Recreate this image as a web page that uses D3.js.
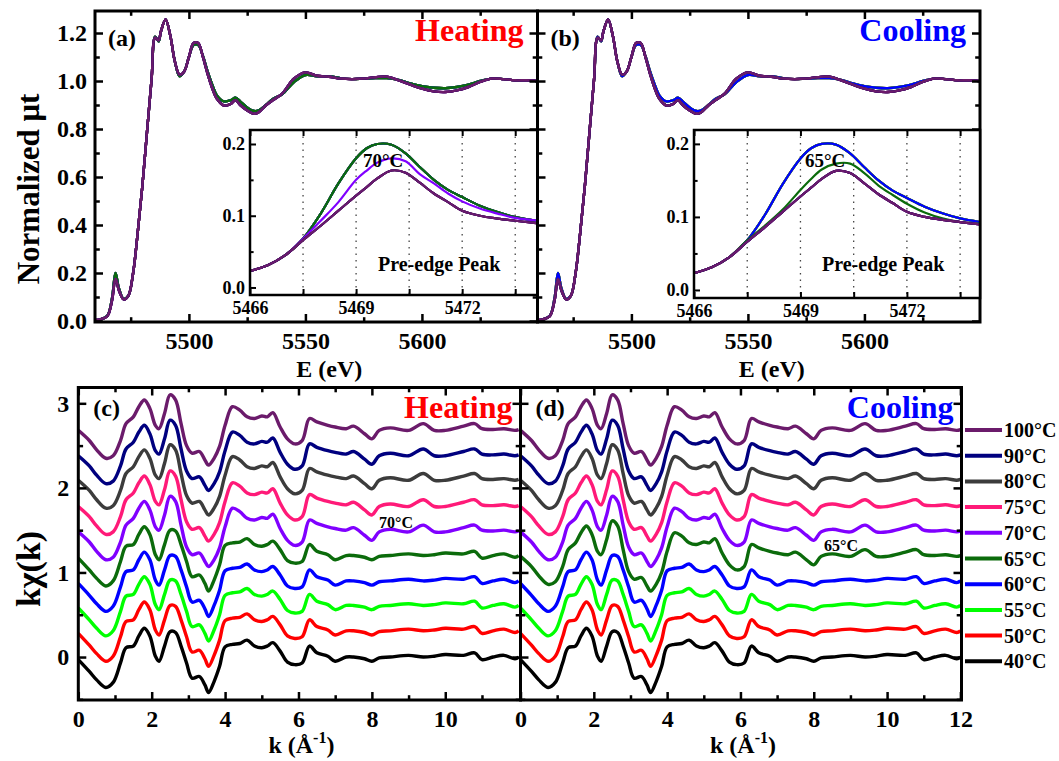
<!DOCTYPE html>
<html>
<head>
<meta charset="utf-8">
<script src="https://cdn.jsdelivr.net/npm/d3@7/dist/d3.min.js"></script>
<style>
body { margin: 0; background: #fff; }
text { font-family: "Liberation Serif", "Times New Roman", serif; font-weight: bold; }
</style>
</head>
<body>
<svg id="chart" width="1059" height="761"></svg>
<script>
// temperatures and colours (legend order is bottom to top)
var temps = ["40°C", "50°C", "55°C", "60°C", "65°C", "70°C", "75°C", "80°C", "90°C", "100°C"];
var tempColors = ["#000000", "#ff0000", "#00ff00", "#0000ff", "#0b6b0b", "#8000ff", "#ff1a78", "#3c3c3c", "#00007f", "#6b1b6b"];

// XANES, normalized mu t
var eGrid = [5458, 5462, 5465, 5467, 5468.5, 5470, 5472, 5474, 5476, 5478, 5480, 5482, 5484, 5485.5, 5487, 5488, 5490, 5492, 5494, 5496, 5498, 5500, 5502, 5504, 5506, 5508, 5510, 5512, 5515, 5518, 5520, 5522, 5525, 5528, 5530, 5533, 5536, 5540, 5545, 5550, 5555, 5560, 5565, 5570, 5575, 5580, 5585, 5590, 5595, 5600, 5605, 5610, 5615, 5620, 5625, 5630, 5635, 5640, 5645, 5650];
var muHighT = [0.003, 0.007, 0.02, 0.084, 0.175, 0.126, 0.09, 0.105, 0.196, 0.365, 0.56, 0.786, 1.01, 1.18, 1.17, 1.207, 1.256, 1.19, 1.08, 1.027, 1.04, 1.10, 1.158, 1.158, 1.10, 1.03, 0.97, 0.926, 0.898, 0.905, 0.92, 0.90, 0.877, 0.863, 0.87, 0.898, 0.92, 0.947, 1.01, 1.036, 1.022, 1.018, 1.01, 1.008, 1.01, 1.016, 1.018, 1.003, 0.985, 0.968, 0.957, 0.954, 0.961, 0.975, 0.996, 1.01, 1.008, 1.003, 1.003, 0.999];
var muLowT = [0.003, 0.007, 0.022, 0.095, 0.200, 0.135, 0.092, 0.105, 0.196, 0.365, 0.56, 0.786, 1.01, 1.185, 1.165, 1.207, 1.256, 1.19, 1.08, 1.02, 1.04, 1.10, 1.15, 1.15, 1.105, 1.04, 0.985, 0.94, 0.915, 0.92, 0.93, 0.915, 0.89, 0.875, 0.878, 0.9, 0.925, 0.945, 0.995, 1.025, 1.02, 1.02, 1.012, 1.008, 1.01, 1.012, 1.012, 1.005, 0.99, 0.978, 0.972, 0.97, 0.975, 0.985, 1.0, 1.01, 1.008, 1.003, 1.003, 0.999];

// pre-edge peak (insets)
var preE = [5466, 5466.5, 5467, 5467.5, 5468, 5468.5, 5469, 5469.3, 5469.6, 5470, 5470.4, 5470.8, 5471.2, 5471.6, 5472, 5472.5, 5473, 5473.5, 5474.2];
var preLow = [0.023, 0.031, 0.045, 0.068, 0.103, 0.145, 0.180, 0.194, 0.200, 0.199, 0.187, 0.168, 0.150, 0.136, 0.126, 0.114, 0.105, 0.098, 0.092];
var preHigh = [0.023, 0.031, 0.045, 0.066, 0.086, 0.107, 0.128, 0.140, 0.152, 0.163, 0.160, 0.146, 0.131, 0.119, 0.107, 0.100, 0.096, 0.093, 0.089];
var preMidHeat = [0.023, 0.031, 0.045, 0.068, 0.093, 0.119, 0.150, 0.163, 0.174, 0.180, 0.176, 0.158, 0.145, 0.131, 0.120, 0.110, 0.103, 0.097, 0.093];
var preMidCool = [0.023, 0.031, 0.045, 0.068, 0.088, 0.110, 0.137, 0.152, 0.165, 0.173, 0.173, 0.160, 0.143, 0.130, 0.118, 0.106, 0.098, 0.093, 0.090];

// k chi(k), curve shapes around each curve's own baseline
var kGrid = [0, 0.3, 0.5, 0.75, 0.95, 1.15, 1.3, 1.5, 1.65, 1.8, 1.95, 2.1, 2.2, 2.35, 2.5, 2.65, 2.8, 2.95, 3.1, 3.3, 3.45, 3.55, 3.7, 3.85, 4.0, 4.2, 4.4, 4.6, 4.8, 5.0, 5.15, 5.3, 5.5, 5.7, 5.9, 6.1, 6.3, 6.5, 6.8, 7.0, 7.3, 7.5, 7.8, 8.0, 8.2, 8.5, 9.0, 9.4, 9.7, 10.0, 10.5, 10.8, 11.0, 11.3, 11.6, 11.9, 12.0];
var chiLowT = [-0.03, -0.17, -0.27, -0.36, -0.30, -0.07, 0.11, 0.13, 0.25, 0.34, 0.25, 0.01, -0.05, 0.13, 0.30, 0.29, 0.13, -0.07, -0.25, -0.23, -0.33, -0.42, -0.29, -0.11, 0.12, 0.15, 0.16, 0.20, 0.13, 0.11, 0.13, 0.17, 0.07, -0.06, -0.09, -0.07, 0.13, 0.05, 0.01, -0.05, 0.0, 0.0, -0.02, -0.05, -0.01, 0.0, 0.02, 0.0, 0.01, 0.03, 0.02, 0.05, -0.03, 0.0, 0.02, -0.02, 0.0];
var chiHighT = [-0.01, -0.13, -0.24, -0.34, -0.31, -0.13, 0.07, 0.15, 0.27, 0.35, 0.25, 0.05, 0.01, 0.19, 0.41, 0.35, 0.07, -0.19, -0.28, -0.26, -0.36, -0.42, -0.34, -0.20, 0.05, 0.27, 0.23, 0.15, 0.13, 0.16, 0.15, 0.20, 0.03, -0.11, -0.17, -0.13, 0.13, 0.09, 0.05, 0.03, 0.01, 0.04, -0.05, -0.11, -0.01, 0.02, -0.01, 0.07, -0.01, -0.01, 0.04, 0.07, 0.01, 0.0, 0.01, -0.01, 0.0];
// vertical offsets of the stacked curves
var kOffsets = [0, 0.31, 0.61, 0.90, 1.20, 1.49, 1.79, 2.10, 2.39, 2.69];

// which curve each temperature uses
var heatGroups = ["L", "L", "L", "L", "L", "M", "H", "H", "H", "H"];
var coolGroups = ["L", "L", "L", "L", "M", "H", "H", "H", "H", "H"];

var svg = d3.select("#chart");

function pairs(xs, ys) {
    return xs.map(function(d, i) { return [d, ys[i]]; });
}

var clipId = 0;
function makePanel(x0, x1, y0, y1, xDom, yDom) {
    var w = x1 - x0, h = y1 - y0;
    var g = svg.append("g").attr("transform", "translate(" + x0 + "," + y0 + ")");
    var x = d3.scaleLinear().domain(xDom).range([0, w]);
    var y = d3.scaleLinear().domain(yDom).range([h, 0]);
    clipId++;
    svg.append("clipPath").attr("id", "clip" + clipId).append("rect").attr("x", 0).attr("y", 0).attr("width", w).attr("height", h);
    var plot = g.append("g").attr("clip-path", "url(#clip" + clipId + ")");
    return {g: g, plot: plot, x: x, y: y, w: w, h: h};
}

function ticks(p, o) {
    var g = p.g.append("g");
    function styleAxis(sel, fs) {
        sel.select(".domain").remove();
        sel.selectAll("line").attr("stroke", "#000").attr("stroke-width", o.tw || 2.5);
        sel.selectAll("text").style("font-size", fs + "px").attr("fill", "#000");
    }
    var L = o.len, fs = o.fs;
    g.append("g").attr("transform", "translate(0," + p.h + ")")
        .call(d3.axisBottom(p.x).tickValues(o.xMajor).tickSize(-L).tickPadding(o.xpad).tickFormat(o.xFmt))
        .call(styleAxis, fs);
    g.append("g").call(d3.axisTop(p.x).tickValues(o.xMajor).tickSize(-L).tickFormat("")).call(styleAxis, fs);
    g.append("g").call(d3.axisLeft(p.y).tickValues(o.yMajor).tickSize(-L).tickPadding(o.ypad).tickFormat(o.yFmt))
        .call(styleAxis, fs);
    if (o.right !== false) {
        g.append("g").attr("transform", "translate(" + p.w + ",0)")
            .call(d3.axisRight(p.y).tickValues(o.yMajor).tickSize(-L).tickFormat("")).call(styleAxis, fs);
    }
    if (o.xMinor) {
        g.append("g").attr("transform", "translate(0," + p.h + ")")
            .call(d3.axisBottom(p.x).tickValues(o.xMinor).tickSize(-L * 0.6).tickFormat("")).call(styleAxis, fs);
        g.append("g").call(d3.axisTop(p.x).tickValues(o.xMinor).tickSize(-L * 0.6).tickFormat("")).call(styleAxis, fs);
    }
    if (o.yMinor) {
        g.append("g").call(d3.axisLeft(p.y).tickValues(o.yMinor).tickSize(-L * 0.6).tickFormat("")).call(styleAxis, fs);
        if (o.right !== false) {
            g.append("g").attr("transform", "translate(" + p.w + ",0)")
                .call(d3.axisRight(p.y).tickValues(o.yMinor).tickSize(-L * 0.6).tickFormat("")).call(styleAxis, fs);
        }
    }
    p.g.append("rect").attr("width", p.w).attr("height", p.h)
        .attr("fill", "none").attr("stroke", "#000").attr("stroke-width", o.fw || 3);
}

function label(x, y, txt, size, color, anchor) {
    return svg.append("text").attr("x", x).attr("y", y).attr("text-anchor", anchor || "start")
        .attr("fill", color || "#000").style("font-size", size + "px").text(txt);
}

var smooth = d3.curveCatmullRom.alpha(0.5);
var noLabel = function() { return ""; };

// ---------- top panels: XANES ----------
function xanesPanel(x0, x1, groups, inset, midPre, tag, title, titleColor, midLabel, showY) {
    var p = makePanel(x0, x1, 11, 322, [5459.7, 5649.6], [-0.0042, 1.2917]);
    var line = d3.line().curve(smooth).x(function(d) { return p.x(d[0]); }).y(function(d) { return p.y(d[1]); });
    temps.forEach(function(t, i) {
        var ys = groups[i] === "L" ? muLowT : muHighT;
        p.plot.append("path").datum(pairs(eGrid, ys)).attr("d", line)
            .attr("fill", "none").attr("stroke", tempColors[i]).attr("stroke-width", 2.4);
    });

    // inset
    var q = makePanel(inset[0], inset[1], inset[2], inset[3], inset[4], inset[5]);
    q.g.insert("rect", ":first-child").attr("width", q.w).attr("height", q.h).attr("fill", "#fff");
    [5467.5, 5469, 5470.5, 5472, 5473.5].forEach(function(v) {
        q.plot.append("line").attr("x1", q.x(v)).attr("x2", q.x(v)).attr("y1", 0).attr("y2", q.h)
            .attr("stroke", "#444").attr("stroke-width", 1.3).attr("stroke-dasharray", "1.5,5");
    });
    var qline = d3.line().curve(smooth).x(function(d) { return q.x(d[0]); }).y(function(d) { return q.y(d[1]); });
    temps.forEach(function(t, i) {
        var ys = groups[i] === "L" ? preLow : (groups[i] === "M" ? midPre : preHigh);
        q.plot.append("path").datum(pairs(preE, ys)).attr("d", qline)
            .attr("fill", "none").attr("stroke", tempColors[i]).attr("stroke-width", 2.2);
    });
    ticks(q, {xMajor: [5466, 5467.5, 5469, 5470.5, 5472, 5473.5],
        xFmt: function(d) { return (d - 5466) % 3 === 0 ? d3.format("d")(d) : ""; },
        yMajor: [0, 0.1, 0.2], yMinor: [0.05, 0.15], yFmt: d3.format(".1f"),
        len: 6, fs: 18, xpad: 6, ypad: 5, right: false, fw: 2.5, tw: 2});
    label(inset[0] + inset[6], 167, midLabel, 19);
    label(inset[0] + 128, 271, "Pre-edge Peak", 20);

    ticks(p, {xMajor: [5500, 5550, 5600], xMinor: [5475, 5525, 5575, 5625],
        yMajor: [0, 0.2, 0.4, 0.6, 0.8, 1.0, 1.2], yMinor: [0.1, 0.3, 0.5, 0.7, 0.9, 1.1],
        xFmt: d3.format("d"), yFmt: showY ? d3.format(".1f") : noLabel, len: 8, fs: 24, xpad: 10, ypad: 8});
    label(x0 + 13, 46, tag, 24);
    label(x1 - 14, 41, title, 32, titleColor, "end");
    label((x0 + x1) / 2 + 13, 377, "E (eV)", 24, "#000", "middle");
    return p;
}

xanesPanel(95, 537.5, heatGroups, [250, 537.5, 130, 295, [5466, 5474.13], [-0.0105, 0.2195], 113], preMidHeat, "(a)", "Heating", "#ff0000", "70°C", true);
xanesPanel(537.5, 980, coolGroups, [694, 980, 130, 298, [5466, 5474.06], [-0.011, 0.219], 111], preMidCool, "(b)", "Cooling", "#0000ff", "65°C", false);

// ---------- bottom panels: k chi(k) ----------
function kPanel(x0, x1, xMax, xLabels, groups, tag, title, titleColor, note, showY) {
    var p = makePanel(x0, x1, 387.5, 700, [0, xMax], [-0.508, 3.187]);
    var line = d3.line().curve(smooth).x(function(d) { return p.x(d[0]); }).y(function(d) { return p.y(d[1]); });
    temps.forEach(function(t, i) {
        var shape = groups[i] === "L" ? chiLowT : chiHighT;
        var ys = shape.map(function(v) { return v + kOffsets[i]; });
        p.plot.append("path").datum(pairs(kGrid, ys)).attr("d", line)
            .attr("fill", "none").attr("stroke", tempColors[i]).attr("stroke-width", 3.4);
    });
    ticks(p, {xMajor: xLabels, xMinor: [1, 3, 5, 7, 9, 11],
        yMajor: [0, 1, 2, 3], yMinor: [-0.5, 0.5, 1.5, 2.5],
        xFmt: d3.format("d"), yFmt: showY ? d3.format("d") : noLabel, len: 8, fs: 24, xpad: 10, ypad: 9});
    label(x0 + 15, 416, tag, 24);
    label(x1 - 8, 418, title, 32, titleColor, "end");
    var kl = svg.append("text").attr("x", (x0 + x1) / 2 + 2).attr("y", 753)
        .attr("text-anchor", "middle").style("font-size", "24px");
    kl.append("tspan").text("k (Å");
    kl.append("tspan").attr("dy", -10).style("font-size", "16px").text("-1");
    kl.append("tspan").attr("dy", 10).text(")");
    label(note[0], note[1], note[2], 16);
    return p;
}

kPanel(78.3, 520.5, 12.05, [0, 2, 4, 6, 8, 10], heatGroups, "(c)", "Heating", "#ff0000", [379, 528, "70°C"], true);
kPanel(520.5, 961.5, 12.03, [0, 2, 4, 6, 8, 10, 12], coolGroups, "(d)", "Cooling", "#0000ff", [824, 551, "65°C"], false);

// y axis titles
svg.append("text").attr("transform", "translate(39,189) rotate(-90)").attr("text-anchor", "middle")
    .style("font-size", "31px").text("Normalized μt");
svg.append("text").attr("transform", "translate(40,569) rotate(-90)").attr("text-anchor", "middle")
    .style("font-size", "34px").text("kχ(k)");

// legend
var legend = svg.append("g");
temps.slice().reverse().forEach(function(t, j) {
    var i = temps.length - 1 - j;
    var yy = 430 + j * 25.7;
    legend.append("line").attr("x1", 965).attr("x2", 1002).attr("y1", yy).attr("y2", yy)
        .attr("stroke", tempColors[i]).attr("stroke-width", 4);
    legend.append("text").attr("x", 1004).attr("y", yy).attr("dy", "0.35em").style("font-size", "20px").text(t);
});
</script>
</body>
</html>
